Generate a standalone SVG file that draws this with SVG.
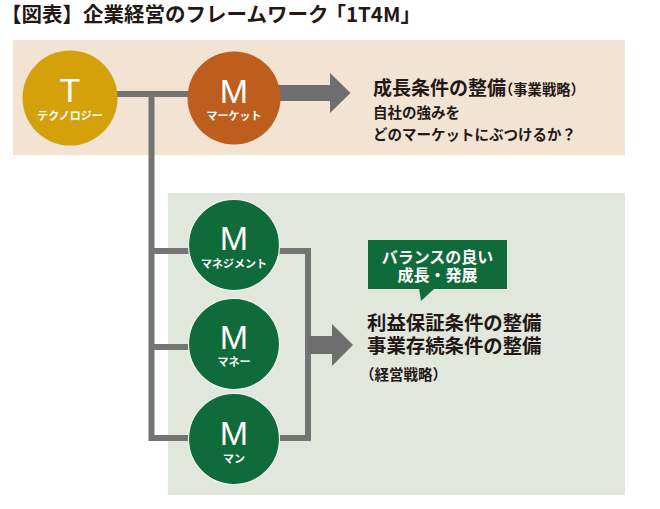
<svg xmlns="http://www.w3.org/2000/svg" width="660" height="509" viewBox="0 0 660 509">
<style>
.jp{font-family:"Noto Sans CJK JP","Noto Sans",sans-serif;font-weight:bold;fill:#231815}
.big{font-family:"Liberation Sans",Arial,sans-serif;font-size:34px;fill:#fff;text-anchor:middle}
.lbl{font-family:"Noto Sans CJK JP","Noto Sans",sans-serif;font-weight:bold;font-size:11px;fill:#fff;text-anchor:middle}
.ln{fill:none;stroke:#747474;stroke-width:6}
.arr{fill:#6e6e6e}
.g{fill:#0f6b3a;stroke:#f4f6f1;stroke-width:1.2}
</style>
<rect width="660" height="509" fill="#fff"/>
<text class="jp" x="1" y="22" font-size="20.5">【図表】企業経営のフレームワーク<tspan dx="-3">「1T4M」</tspan></text>
<rect id="panel-top" x="13" y="40" width="612" height="115" fill="#f3e3d3"/>
<rect id="panel-bottom" x="168" y="193" width="457" height="302" fill="#e2e7dd"/>
<g id="connectors">
<line class="ln" x1="112" y1="94" x2="192" y2="94"/>
<polyline class="ln" points="151.5,94 151.5,438 192,438"/>
<line class="ln" x1="151.5" y1="251" x2="192" y2="251"/>
<line class="ln" x1="151.5" y1="347" x2="192" y2="347"/>
<polyline class="ln" points="276,251 308,251 308,438 276,438"/>
<rect class="arr" x="276" y="85" width="56" height="16"/>
<polygon class="arr" points="330,73 350.5,93 330,113"/>
<rect class="arr" x="308" y="336" width="26" height="18"/>
<polygon class="arr" points="332,324 353,345 332,366"/>
</g>
<g id="node-T">
<circle cx="70" cy="98" r="47.5" fill="#d5a10b"/>
<text class="big" x="70" y="102" font-size="36">T</text>
<text class="lbl" x="70" y="120">テクノロジー</text>
</g>
<g id="node-market">
<circle cx="234" cy="98" r="46.5" fill="#bd5e1f"/>
<text class="big" x="234" y="103">M</text>
<text class="lbl" x="234" y="120">マーケット</text>
</g>
<g id="node-management">
<circle class="g" cx="234" cy="245" r="45.5"/>
<text class="big" x="234" y="250">M</text>
<text class="lbl" x="234" y="268">マネジメント</text>
</g>
<g id="node-money">
<circle class="g" cx="234" cy="344" r="45.5"/>
<text class="big" x="234" y="349">M</text>
<text class="lbl" x="234" y="366">マネー</text>
</g>
<g id="node-man">
<circle class="g" cx="234" cy="439" r="45.5"/>
<text class="big" x="234" y="445">M</text>
<text class="lbl" x="234" y="463">マン</text>
</g>
<g id="text-growth">
<text class="jp" x="373" y="95" font-size="19">成長条件の整備</text>
<text class="jp" x="499" y="95" font-size="14.3">（事業戦略）</text>
<text class="jp" x="373" y="118" font-size="14.5">自社の強みを</text>
<text class="jp" x="373" y="140" font-size="14.5">どのマーケットにぶつけるか？</text>
</g>
<g id="bubble">
<rect x="368" y="240" width="139" height="49" fill="#0f6b3a"/>
<polygon points="419,288 435,288 421,301" fill="#0f6b3a"/>
<text class="jp" x="437.5" y="263" font-size="16" text-anchor="middle" style="fill:#fff">バランスの良い</text>
<text class="jp" x="437.5" y="281" font-size="16" text-anchor="middle" style="fill:#fff">成長・発展</text>
</g>
<g id="text-balance">
<text class="jp" x="367" y="330" font-size="19.4">利益保証条件の整備</text>
<text class="jp" x="367" y="353" font-size="19.4">事業存続条件の整備</text>
<text class="jp" x="360" y="380" font-size="14.5">（経営戦略）</text>
</g>
</svg>
